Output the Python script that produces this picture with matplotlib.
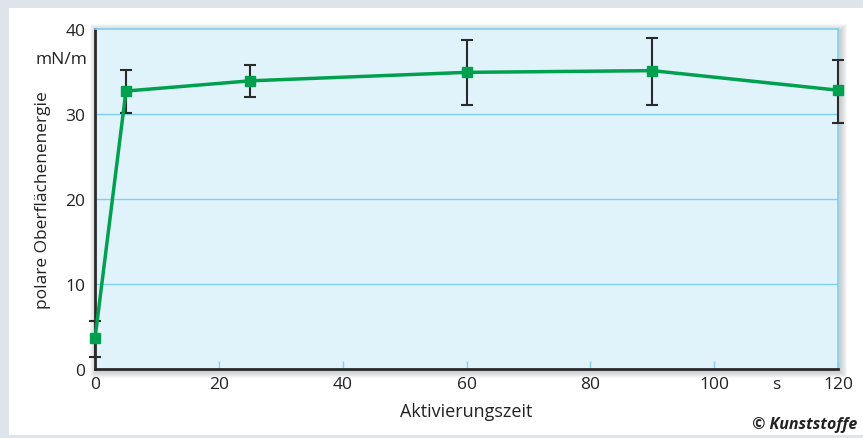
import numpy as np
import matplotlib.pyplot as plt
from matplotlib.patches import Rectangle

zeit = [0, 5, 25, 60, 90, 120]
energie = [3.6, 32.7, 33.9, 34.9, 35.1, 32.8]
fehler_unten = [2.15, 2.6, 1.9, 3.85, 4.05, 3.9]
fehler_oben = [2.1, 2.5, 1.9, 3.8, 3.8, 3.6]

x_ticks = [0, 20, 40, 60, 80, 100, 120]
x_labels = ["0", "20", "40", "60", "80", "100", "120"]
y_ticks = [0, 10, 20, 30, 40]

GREEN = "#00a04f"
GRID = "#7fd0f0"
BG = "#e0f3fb"
DARK = "#2a2a2a"
TXT = "#222222"

plt.rcParams['font.family'] = ['Open Sans', 'DejaVu Sans']

fig = plt.figure(figsize=(8.63, 4.39), dpi=100)
fig.patch.set_facecolor("#dde4ea")
W, H = 863, 439
fig.patches.append(Rectangle((9 / W, 3 / H), 1, 1 - 12 / H, transform=fig.transFigure,
                             facecolor="white", edgecolor="none", zorder=-10))

left, right, bottom, top = 95 / W, 838 / W, 1 - 370 / H, 1 - 30 / H
# weicher Schatten hinter dem Diagramm
for i in range(1, 8):
    fig.patches.append(Rectangle((left - i / W + 1.5 / W, bottom - i / H - 1.5 / H),
                                 right - left + 2 * i / W, top - bottom + 2 * i / H,
                                 transform=fig.transFigure, facecolor="#8a8f94",
                                 edgecolor="none", alpha=0.07, zorder=-5))

ax = fig.add_axes([left, bottom, right - left, top - bottom])
ax.set_facecolor(BG)

ax.set_xlim(0, 120)
ax.set_ylim(0, 40)

for y in [10, 20, 30]:
    ax.axhline(y, color=GRID, lw=1, zorder=1)

ax.errorbar(zeit, energie, yerr=[fehler_unten, fehler_oben], fmt="none",
            ecolor=DARK, elinewidth=1.5, capsize=4, capthick=1.5, zorder=3, clip_on=False)
ax.plot(zeit, energie, color=GREEN, lw=2.5, marker="s", markersize=7.5,
        markerfacecolor=GREEN, markeredgecolor=GREEN, zorder=4, clip_on=False)

for side in ["left", "bottom"]:
    ax.spines[side].set_color(DARK)
    ax.spines[side].set_linewidth(2)
for side in ["top", "right"]:
    ax.spines[side].set_color(GRID)
    ax.spines[side].set_linewidth(1.2)

ax.set_xticks(x_ticks)
ax.set_xticklabels(x_labels)
ax.set_xticks([110], minor=True)
ax.set_xticklabels(["s"], minor=True)
ax.tick_params(axis="x", which="major", direction="in", length=6, color=GRID, width=1,
               labelsize=12.5, labelcolor=TXT, pad=5)
ax.tick_params(axis="x", which="minor", length=0, labelsize=12.5, labelcolor=TXT, pad=5)
ax.set_yticks(y_ticks)
ax.tick_params(axis="y", length=0, labelsize=12.5, labelcolor=TXT, pad=7)

ax.text(-1.2, 36.5, "mN/m", ha="right", va="center", fontsize=12.5, color=TXT)

ax.set_ylabel("polare Oberflächenenergie", fontsize=12.5, color=TXT, labelpad=10)
ax.set_xlabel("Aktivierungszeit", fontsize=13, color=TXT, labelpad=7)

fig.text(857 / W, 1 - 425 / H, "© Kunststoffe", ha="right", va="center",
         fontsize=11.5, fontweight="bold", fontstyle="italic", color=TXT)

fig.savefig("out.png", dpi=100, facecolor=fig.get_facecolor())
